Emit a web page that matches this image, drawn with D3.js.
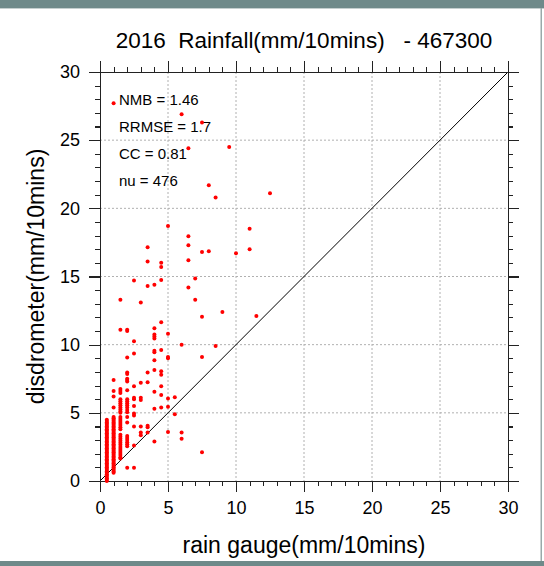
<!DOCTYPE html>
<html lang="en">
<head>
<meta charset="utf-8">
<title>2016 Rainfall - 467300</title>
<script src="https://d3js.org/d3.v7.min.js"></script>
<style>
body { margin: 0; background: #fff; }
svg text { font-family: "Liberation Sans", Arial, Helvetica, sans-serif; fill: #000; }
.axis path, .axis line { stroke: #222; stroke-width: 1.1; shape-rendering: crispEdges; }
.grid line { stroke: #b0b0b0; stroke-width: 1; stroke-dasharray: 2,2; }
</style>
</head>
<body>
<svg width="544" height="566"></svg>
<script>
// rain gauge bins (0.5 mm tipping bucket) and disdrometer values
var gaugeBins = [0.5, 1, 1.5, 2, 2.5, 3, 3.5, 4, 4.5, 5, 5.5, 6, 6.5, 7, 7.5, 8, 8.5, 9, 9.5, 10, 11, 11.5, 12.5];
var disdroByBin = [
  [0.0,0.1,0.2,0.3,0.4,0.5,0.6,0.7,0.8,0.9,1.0,1.1,1.2,1.3,1.4,1.5,1.6,1.7,1.8,1.9,2.0,2.1,2.2,2.3,2.4,2.5,2.6,2.7,2.8,2.9,3.0,3.1,3.2,3.3,3.4,3.5,3.6,3.7,3.8,3.9,4.0,4.1,4.2,4.3,4.4,4.5],
  [0.6,0.7,0.8,0.9,1.0,1.1,1.2,1.3,1.4,1.5,1.6,1.7,1.8,1.9,2.0,2.1,2.2,2.3,2.4,2.5,2.6,2.7,2.8,2.9,3.0,3.1,3.2,3.3,3.4,3.5,3.6,3.7,3.8,3.9,4.0,4.1,4.2,4.3,4.4,4.5,4.6,4.7,5.4,6.2,6.6,7.4,27.7],
  [1.65,1.75,1.9,2.05,2.2,2.35,2.5,2.65,2.8,2.95,3.1,3.25,3.4,3.8,3.95,4.1,4.25,4.4,4.55,4.7,5.0,5.1,5.25,5.4,5.55,5.7,5.85,6.0,6.45,6.6,6.75,11.1,13.3],
  [0.98,2.55,2.7,2.85,3.0,3.15,3.3,4.3,4.7,5.05,5.2,5.4,5.55,5.7,5.85,6.0,6.65,7.3,7.4,7.5,7.85,7.95,9.05,11.0,11.1],
  [0.98,2.6,4.0,4.8,4.95,5.5,6.0,6.1,6.95,9.35,10.25,14.7],
  [3.35,3.55,4.0,5.95,6.1,7.2,13.1],
  [3.55,3.95,4.05,7.25,7.95,14.3,16.1,17.15],
  [2.9,5.3,6.55,8.15,8.85,9.45,9.55,10.45,10.6,10.75,11.2,14.4],
  [5.4,6.3,6.95,7.8,8.05,9.6,11.65,14.75,15.7,16.0],
  [3.6,5.45,6.05,9.0,9.1,10.8,18.7],
  [4.9,6.15],
  [3.1,3.55,10.0,26.9],
  [14.2,16.2,17.3,17.95,24.4],
  [13.3,14.85],
  [2.1,9.1,12.05,16.8,26.3],
  [16.85,21.7],
  [9.9,20.8],
  [12.4],
  [24.5],
  [16.7],
  [17.0,18.5],
  [12.1],
  [21.1]
];
var tickLabels = [0, 5, 10, 15, 20, 25, 30];
var statLines = ["NMB = 1.46", "RRMSE = 1.7", "CC = 0.81", "nu = 476"];

var points = [];
gaugeBins.forEach(function(gv, i) {
  disdroByBin[i].forEach(function(v) { points.push({gauge: gv, disdro: v}); });
});

var svg = d3.select("svg");
var padLeft = 100, padTop = 72, width = 408, height = 409;

// window frame
svg.append("rect").attr("x", 0).attr("y", 0).attr("width", 544).attr("height", 8).attr("fill", "#6f8a8a");
svg.append("rect").attr("x", 0).attr("y", 8).attr("width", 544).attr("height", 1).attr("fill", "#c5cfcf");
svg.append("rect").attr("x", 0).attr("y", 561).attr("width", 544).attr("height", 5).attr("fill", "#6f8a8a");
svg.append("rect").attr("x", 540.5).attr("y", 8).attr("width", 1.5).attr("height", 553).attr("fill", "#9aa9a9");

var x = d3.scaleLinear().domain([0, 30]).range([0, width]);
var y = d3.scaleLinear().domain([0, 30]).range([height, 0]);

var g = svg.append("g").attr("transform", "translate(" + padLeft + "," + padTop + ")");

var minor = d3.range(0, 31).filter(function(d) { return d % 5 !== 0; });
var inner = tickLabels.slice(1, -1);

// dotted grid
var grid = g.append("g").attr("class", "grid");
grid.selectAll("line.v").data(inner).enter().append("line").attr("class", "v")
 .attr("x1", function(d) { return x(d); }).attr("x2", function(d) { return x(d); })
 .attr("y1", 0).attr("y2", height);
grid.selectAll("line.h").data(inner).enter().append("line").attr("class", "h")
 .attr("x1", 0).attr("x2", width)
 .attr("y1", function(d) { return y(d); }).attr("y2", function(d) { return y(d); });

// 1:1 line
g.append("line")
 .attr("x1", x(0)).attr("y1", y(0)).attr("x2", x(30)).attr("y2", y(30))
 .attr("stroke", "#000").attr("stroke-width", 1);

// axes, ticks outward on all four sides
function addAxis(axisFn, scale, transform, labels) {
  var major = g.append("g").attr("class", "axis").attr("transform", transform)
    .call(axisFn(scale).tickValues(tickLabels).tickSize(11).tickPadding(labels ? 9 : 0)
      .tickFormat(labels ? d3.format("d") : ""));
  g.append("g").attr("class", "axis").attr("transform", transform)
    .call(axisFn(scale).tickValues(minor).tickSize(5).tickFormat(""))
    .select(".domain").remove();
  major.selectAll("text").style("font-size", "18px").attr("fill", "#000");
  return major;
}
addAxis(d3.axisBottom, x, "translate(0," + height + ")", true);
addAxis(d3.axisLeft, y, "translate(0,0)", true);
addAxis(d3.axisTop, x, "translate(0,0)", false);
addAxis(d3.axisRight, y, "translate(" + width + ",0)", false);

// points
g.append("g").selectAll("circle").data(points).enter().append("circle")
 .attr("cx", function(d) { return x(d.gauge); })
 .attr("cy", function(d) { return y(d.disdro); })
 .attr("r", 2)
 .attr("fill", "#ff0000");

// statistics
g.append("g").selectAll("text").data(statLines).enter().append("text")
 .attr("x", 19)
 .attr("y", function(d, i) { return 33 + i * 27; })
 .style("font-size", "15px")
 .text(function(d) { return d; });

// titles
svg.append("text")
 .attr("x", 304).attr("y", 48)
 .attr("text-anchor", "middle")
 .style("font-size", "22.5px")
 .style("white-space", "pre")
 .text("2016  Rainfall(mm/10mins)   - 467300");

svg.append("text")
 .attr("x", 304).attr("y", 553)
 .attr("text-anchor", "middle")
 .style("font-size", "23px")
 .text("rain gauge(mm/10mins)");

svg.append("text")
 .attr("transform", "translate(44," + (padTop + height / 2) + ") rotate(-90)")
 .attr("text-anchor", "middle")
 .style("font-size", "23px")
 .text("disdrometer(mm/10mins)");
</script>
</body>
</html>
